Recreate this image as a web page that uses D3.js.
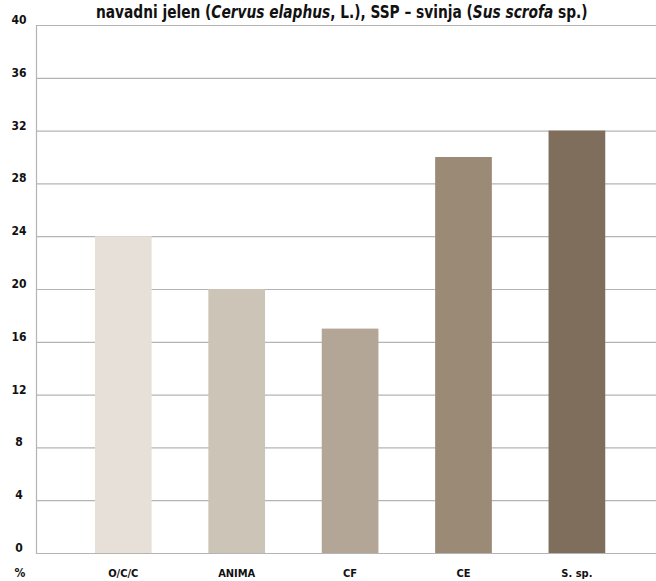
<!DOCTYPE html>
<html><head><meta charset="utf-8">
<script src="https://cdn.jsdelivr.net/npm/d3@7"></script>
<style>
body{margin:0;background:#fff;}
text{font-family:"DejaVu Sans Condensed","DejaVu Sans",sans-serif;font-stretch:condensed;}
</style></head><body>
<svg id="c" width="656" height="581"></svg>
<script>
const categories = ["O/C/C","ANIMA","CF","CE","S. sp."];
const values = [24, 20, 17, 30, 32];
const colors = ["#e6e0d9","#cdc4b8","#b4a697","#9b8b76","#806e5c"];
const yTicks = [0,4,8,12,16,20,24,28,32,36,40];

const svg = d3.select("#c");
const x0 = 36, x1 = 656, yTop = 25, yBot = 553;
const y = d3.scaleLinear().domain([0,40]).range([yBot,yTop]);
const x = d3.scaleBand().domain(categories).range([66.6,633.6]).paddingInner(0.5).paddingOuter(0.25);

svg.append("g").selectAll("line").data(yTicks.filter(t=>t>0)).join("line")
  .attr("x1",x0).attr("x2",x1).attr("y1",d=>y(d)+0.5).attr("y2",d=>y(d)+0.5)
  .attr("stroke","#b4b4b4").attr("stroke-width",1.2);

svg.append("g").selectAll("rect").data(values).join("rect")
  .attr("x",(d,i)=>x(categories[i])).attr("width",x.bandwidth())
  .attr("y",d=>y(d)).attr("height",d=>yBot-y(d))
  .attr("fill",(d,i)=>colors[i]);

svg.append("line").attr("x1",x0+0.5).attr("x2",x0+0.5).attr("y1",yTop).attr("y2",yBot+1)
  .attr("stroke","#b4b4b4").attr("stroke-width",1.2);
svg.append("line").attr("x1",x0).attr("x2",x1).attr("y1",yBot+0.5).attr("y2",yBot+0.5)
  .attr("stroke","#b4b4b4").attr("stroke-width",1.2);

svg.append("g").selectAll("text").data(yTicks).join("text")
  .attr("x",19).attr("y",d=>y(d)-1).attr("text-anchor","middle")
  .attr("font-size",12).attr("font-weight","bold").attr("fill","#111")
  .text(d=>d);

svg.append("g").selectAll("text").data(categories).join("text")
  .attr("x",d=>x(d)+x.bandwidth()/2).attr("y",577).attr("text-anchor","middle")
  .attr("font-size",11).attr("font-weight","bold").attr("fill","#111")
  .text(d=>d);
svg.append("text").attr("x",20).attr("y",577).attr("text-anchor","middle")
  .attr("font-size",12).attr("font-weight","bold").attr("fill","#111").text("%");

const tg = svg.append("g");
const t = tg.append("text").attr("x",0).attr("y",0)
  .attr("font-size",18).attr("font-weight","bold").attr("fill","#111");
t.append("tspan").text("navadni jelen (");
t.append("tspan").attr("font-style","italic").text("Cervus elaphus");
t.append("tspan").text(", L.), SSP – svinja (");
t.append("tspan").attr("font-style","italic").text("Sus scrofa");
t.append("tspan").text(" sp.)");
const w = t.node().getComputedTextLength();
tg.attr("transform",`translate(96,18) scale(${492/w},1)`);
</script>
</body></html>
